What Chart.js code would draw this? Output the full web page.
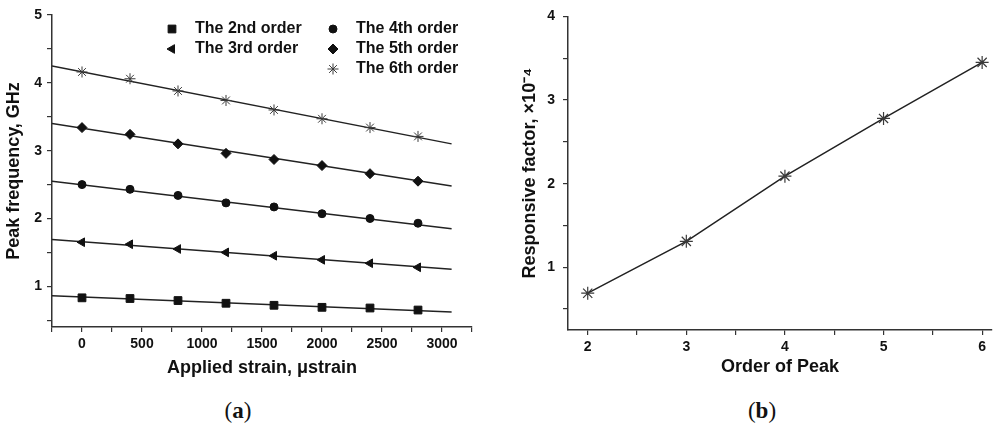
<!DOCTYPE html>
<html>
<head>
<meta charset="utf-8">
<script src="https://cdn.jsdelivr.net/npm/chart.js@4.4.1/dist/chart.umd.min.js"></script>
<style>
  body { margin: 0; background: #fff; width: 1000px; height: 432px; position: relative; overflow: hidden; }
  .box { position: absolute; top: 0; width: 500px; height: 390px; }
  #boxA { left: 0; }
  #boxB { left: 500px; }
  .tag { position: absolute; top: 398px; font: 23px "Liberation Serif", serif; color: #111; transform: translateX(-50%); }
</style>
</head>
<body>
<div class="box" id="boxA"><canvas id="chartA"></canvas></div>
<div class="box" id="boxB"><canvas id="chartB"></canvas></div>
<div class="tag" style="left:238px">(<b>a</b>)</div>
<div class="tag" style="left:762px">(<b>b</b>)</div>
<script>
// (a) peak frequency vs applied strain
const strain = [0, 400, 800, 1200, 1600, 2000, 2400, 2800];
const order2 = [0.83, 0.82, 0.79, 0.75, 0.72, 0.69, 0.68, 0.65];
const order3 = [1.65, 1.62, 1.55, 1.50, 1.45, 1.39, 1.34, 1.28];
const order4 = [2.50, 2.43, 2.34, 2.23, 2.17, 2.07, 2.00, 1.93];
const order5 = [3.34, 3.24, 3.10, 2.96, 2.87, 2.78, 2.66, 2.55];
const order6 = [4.16, 4.06, 3.88, 3.74, 3.60, 3.47, 3.34, 3.21];
// linear fits, value at both ends
const fitX = [-250, 3080];
const fit2 = [0.86, 0.62];
const fit3 = [1.69, 1.25];
const fit4 = [2.55, 1.85];
const fit5 = [3.40, 2.48];
const fit6 = [4.25, 3.10];

// (b) responsive factor vs order
const peakOrder = [2, 3, 4, 5, 6];
const respFactor = [0.69, 1.31, 2.09, 2.78, 3.45];

Chart.defaults.font.family = '"Liberation Sans", Arial, sans-serif';
Chart.defaults.font.weight = 'bold';
Chart.defaults.color = '#111';
Chart.defaults.animation = false;

const ink = '#222';

function pts(xs, ys) {
    return xs.map((x, i) => ({ x: x, y: ys[i] }));
}

function axis(min, max, step, title, size, titlePad, labelPad) {
    return {
        type: 'linear',
        min: min,
        max: max,
        border: { display: true, color: '#333', width: 1.5 },
        grid: { display: true, drawOnChartArea: false, drawTicks: true, tickLength: 5, color: '#333', lineWidth: 1.2 },
        ticks: {
            stepSize: step,
            includeBounds: false,
            autoSkip: false,
            maxRotation: 0,
            padding: labelPad,
            font: { size: 14, weight: 'bold' },
            color: '#111',
            callback: v => (Math.abs(v - Math.round(v / (step * 2)) * step * 2) < 1e-6 && v >= 0) ? String(Math.round(v)) : ''
        },
        title: { display: true, text: title, font: { size: 18, weight: 'bold' }, color: '#111', padding: titlePad },
        afterFit: s => { if (s.isHorizontal()) s.height = size; else s.width = size; }
    };
}

function marks(label, ys, style, r, rot) {
    return {
        label: label,
        data: pts(strain, ys),
        showLine: false,
        pointStyle: style,
        pointRadius: r,
        pointRotation: rot || 0,
        pointBackgroundColor: '#111',
        pointBorderColor: '#111',
        pointBorderWidth: 1,
        backgroundColor: '#111',
        borderColor: '#111'
    };
}

function fit(ys) {
    return {
        fit: true,
        data: pts(fitX, ys),
        showLine: true,
        pointRadius: 0,
        borderColor: ink,
        borderWidth: 1.5
    };
}

const legendPlugin = {
    id: 'orderLegend',
    afterDatasetsDraw(chart) {
        const ctx = chart.ctx;
        const spots = [[172, 29], [172, 49], [333, 29], [333, 49], [333, 69]];
        ctx.save();
        ctx.font = 'bold 16px "Liberation Sans", Arial, sans-serif';
        ctx.textBaseline = 'middle';
        chart.data.datasets.filter(d => !d.fit).forEach((d, i) => {
            const [x, y] = spots[i];
            ctx.fillStyle = d.pointBackgroundColor;
            ctx.strokeStyle = d.pointBorderColor;
            ctx.lineWidth = d.pointBorderWidth;
            Chart.helpers.drawPoint(ctx, { pointStyle: d.pointStyle, rotation: d.pointRotation, radius: d.pointRadius, borderWidth: d.pointBorderWidth }, x, y);
            ctx.fillStyle = '#111';
            ctx.fillText(d.label, x + 23, y);
        });
        ctx.restore();
    }
};

new Chart(document.getElementById('chartA'), {
    type: 'scatter',
    data: {
        datasets: [
            marks('The 2nd order', order2, 'rect', 5.5),
            marks('The 3rd order', order3, 'triangle', 5, -90),
            marks('The 4th order', order4, 'circle', 4),
            marks('The 5th order', order5, 'rectRot', 5),
            Object.assign(marks('The 6th order', order6, 'star', 5.5), { pointBorderColor: '#3a3a3a', pointBackgroundColor: '#3a3a3a' }),
            fit(fit2), fit(fit3), fit(fit4), fit(fit5), fit(fit6)
        ]
    },
    options: {
        responsive: true,
        maintainAspectRatio: false,
        layout: { padding: { top: 15, right: 28, left: 0, bottom: 0 } },
        plugins: { legend: { display: false }, tooltip: { enabled: false } },
        scales: {
            x: axis(-250, 3250, 250, 'Applied strain, μstrain', 63, { top: 0, bottom: 11 }, 4),
            y: axis(0.4, 5, 0.5, 'Peak frequency, GHz', 52, { top: 3, bottom: 0 }, 5)
        }
    },
    plugins: [legendPlugin]
});

new Chart(document.getElementById('chartB'), {
    type: 'scatter',
    data: {
        datasets: [{
            label: 'Responsive factor',
            data: pts(peakOrder, respFactor),
            showLine: true,
            borderColor: ink,
            borderWidth: 1.5,
            pointStyle: 'star',
            pointRadius: 6.5,
            pointBorderColor: '#3a3a3a',
            pointBorderWidth: 1.2,
            pointBackgroundColor: '#3a3a3a'
        }]
    },
    options: {
        responsive: true,
        maintainAspectRatio: false,
        layout: { padding: { top: 15, right: 8, left: 0, bottom: 0 } },
        plugins: { legend: { display: false }, tooltip: { enabled: false } },
        scales: {
            x: axis(1.8, 6.1, 0.5, 'Order of Peak', 60, { top: 0, bottom: 12.5 }, 4),
            y: axis(0.25, 4, 0.5, 'Responsive factor, ×10⁻⁴', 68, { top: 19, bottom: 0 }, 8)
        }
    }
});
</script>
</body>
</html>
